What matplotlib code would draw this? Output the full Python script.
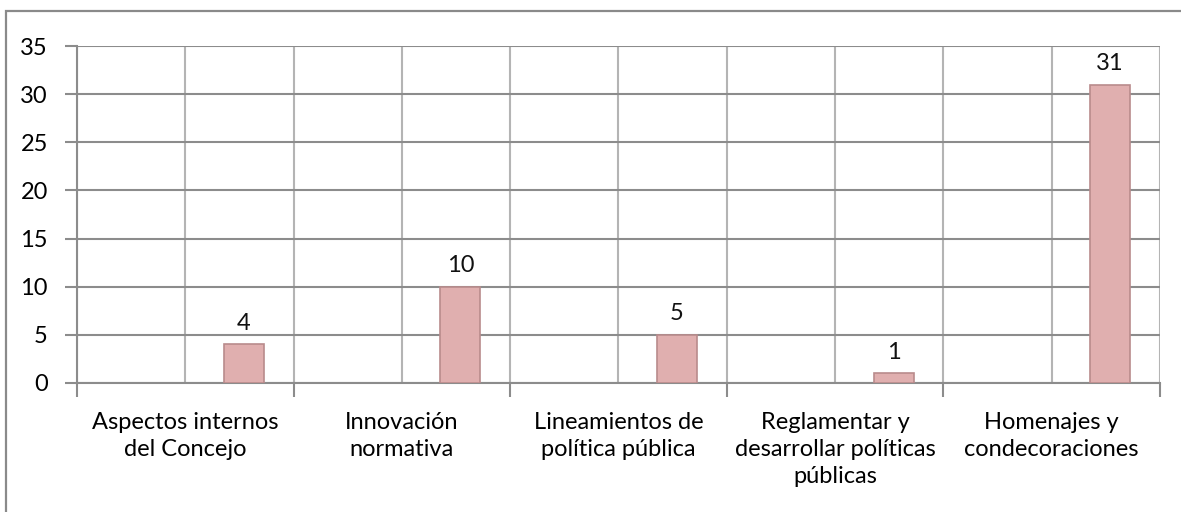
import numpy as np
import matplotlib.pyplot as plt
from matplotlib.patches import Rectangle

# ------------------------------------------------------------
# Data
# ------------------------------------------------------------
categories = [
    "Aspectos internos\ndel Concejo",
    "Innovación\nnormativa",
    "Lineamientos de\npolítica pública",
    "Reglamentar y\ndesarrollar políticas\npúblicas",
    "Homenajes y\ncondecoraciones",
]
values = [4, 10, 5, 1, 31]
y_ticks = [0, 5, 10, 15, 20, 25, 30, 35]

# ------------------------------------------------------------
# Style
# ------------------------------------------------------------
plt.rcParams['font.family'] = ['Lato', 'DejaVu Sans']
DARK_GRID = "#8c8c8c"
LIGHT_GRID = "#b4b4b4"
BAR_COLOR = "#e0afaf"
BAR_EDGE = "#b98b8c"
FS = 17

fig = plt.figure(figsize=(11.81, 5.12), dpi=100)
ax = fig.add_axes([0.0652, 0.252, 0.917, 0.658])

# outer chart frame (runs off the right/bottom of the picture)
fig.patches.append(Rectangle((6 / 1181, -0.1), 1.2, 0.1 + (512 - 11) / 512,
                             transform=fig.transFigure, fill=False,
                             edgecolor="#8a8a8a", linewidth=1.6, zorder=0))

x = np.arange(len(categories))
offset, width = 0.27, 0.185

ax.bar(x + offset, values, width=width, color=BAR_COLOR,
       edgecolor=BAR_EDGE, linewidth=1.2, zorder=3)

for xi, v in zip(x, values):
    ax.text(xi + offset, v + 1.1, str(v), ha="center", va="bottom",
            fontsize=FS, color="#111111")

# axes / grid
ax.set_xlim(-0.5, len(categories) - 0.5)
ax.set_ylim(0, 35)
ax.set_yticks(y_ticks)
ax.set_xticks(np.arange(-0.5, len(categories), 1.0))
ax.set_xticklabels([])
ax.set_xticks(x, minor=True)
ax.set_xticklabels(categories, minor=True, fontsize=FS, linespacing=1.36)
ax.tick_params(axis="x", which="minor", length=0, pad=21)
ax.tick_params(axis="x", which="major", length=10, width=1.5, color=DARK_GRID)
ax.tick_params(axis="y", length=9, width=1.5, color=DARK_GRID,
               labelsize=FS, pad=12)

ax.yaxis.grid(True, color=DARK_GRID, linewidth=1.5, zorder=1)
ax.xaxis.grid(True, which="both", color=LIGHT_GRID, linewidth=1.5, zorder=1)
ax.set_axisbelow(True)

for side in ["top", "right"]:
    ax.spines[side].set_visible(False)
for side in ["left", "bottom"]:
    ax.spines[side].set_color(DARK_GRID)
    ax.spines[side].set_linewidth(1.5)

fig.savefig("out.png", dpi=100)
